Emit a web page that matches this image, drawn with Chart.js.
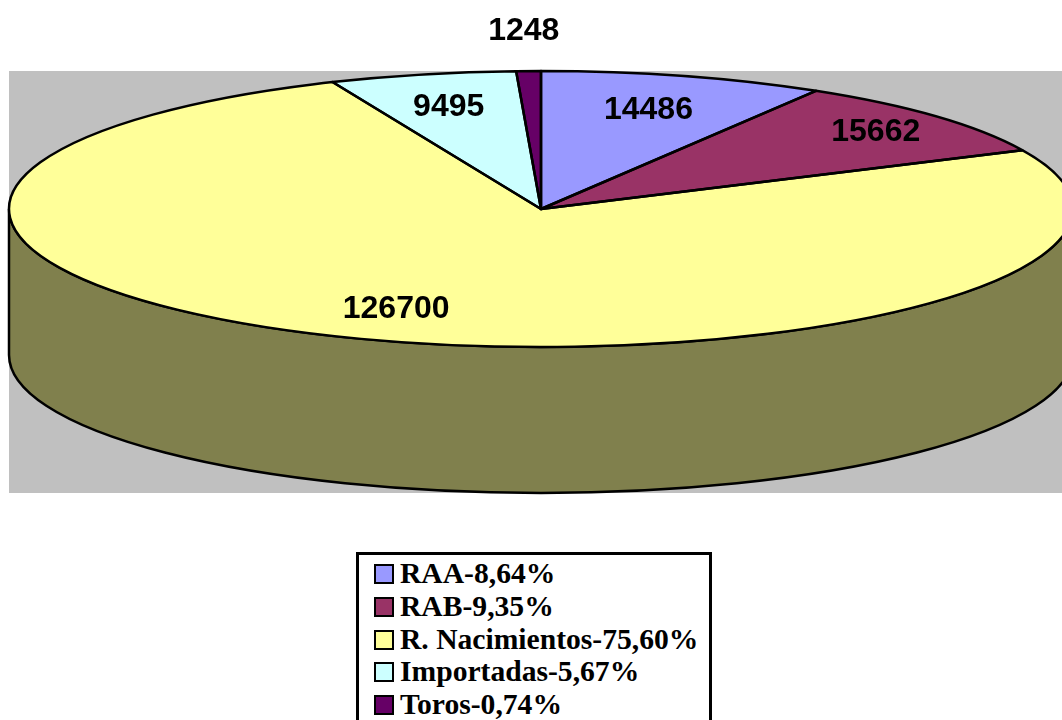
<!DOCTYPE html>
<html>
<head>
<meta charset="utf-8">
<script src="https://cdn.jsdelivr.net/npm/chart.js@4"></script>
<style>
    html, body { margin: 0; padding: 0; background: #fff; width: 1062px; height: 720px; overflow: hidden; }
    #wrap { position: relative; width: 1062px; height: 720px; overflow: hidden; }
    #legend {
        position: absolute; left: 356px; top: 552px; width: 350px; height: 180px;
        border: 3px solid #000; background: #fff; box-sizing: content-box;
        font: bold 29.6px "Liberation Serif", serif; color: #000;
    }
    #legend div { position: absolute; left: 15px; height: 33px; line-height: 33px; white-space: nowrap; }
    #legend i {
        position: absolute; left: 0; top: 7px; width: 16px; height: 16px;
        border: 2px solid #000; display: block;
    }
    #legend span { position: absolute; left: 26px; top: 0; }
</style>
</head>
<body>
<div id="wrap">
    <canvas id="pie" width="1062" height="720"></canvas>
    <div id="legend"></div>
</div>
<script>
const categories = ['RAA', 'RAB', 'R. Nacimientos', 'Importadas', 'Toros'];
const values = [14486, 15662, 126700, 9495, 1248];
const percents = ['8,64%', '9,35%', '75,60%', '5,67%', '0,74%'];
const colors = ['#9999FF', '#993366', '#FFFF99', '#CCFFFF', '#660066'];
const sideColors = ['#4D4D80', '#4D1A33', '#80804D', '#668080', '#330033'];

const squash = 138 / 532;
const depth = 146;
// how far out along the slice each number sits
const labelPos = [0.76, 0.85, 0.76, 0.77, 1.3];

const tilted = (ctx, el, fn) => {
    ctx.save();
    ctx.translate(el.x, el.y);
    ctx.scale(1, squash);
    ctx.translate(-el.x, -el.y);
    fn();
    ctx.restore();
};

const pie3d = {
    id: 'pie3d',
    beforeDraw(chart) {
        const ctx = chart.ctx;
        ctx.fillStyle = '#C0C0C0';
        ctx.fillRect(9, 71, 1053, 422);
    },
    beforeDatasetDraw(chart) {
        const ctx = chart.ctx;
        const arcs = chart.getDatasetMeta(0).data;
        // the rim: only the part of each slice on the front half shows
        arcs.forEach((el, i) => {
            const turn = Math.PI * 2;
            let a = el.startAngle, b = el.endAngle;
            if (a < 0 && b > 0) a = 0;
            if (b > Math.PI && a < Math.PI) b = Math.PI;
            if (a < 0 || a >= Math.PI || b <= a || b > turn) return;
            ctx.beginPath();
            tilted(ctx, el, () => ctx.arc(el.x, el.y, el.outerRadius, a, b));
            ctx.save();
            ctx.translate(0, depth);
            tilted(ctx, el, () => ctx.arc(el.x, el.y, el.outerRadius, b, a, true));
            ctx.restore();
            ctx.closePath();
            ctx.fillStyle = sideColors[i];
            ctx.fill();
            ctx.strokeStyle = '#000';
            ctx.lineWidth = 2.5;
            ctx.stroke();
        });
        ctx.save();
        const el = arcs[0];
        ctx.translate(el.x, el.y);
        ctx.scale(1, squash);
        ctx.translate(-el.x, -el.y);
    },
    afterDatasetDraw(chart) {
        const ctx = chart.ctx;
        ctx.restore();
        const arcs = chart.getDatasetMeta(0).data;
        arcs.forEach((el, i) => {
            ctx.beginPath();
            tilted(ctx, el, () => {
                ctx.moveTo(el.x, el.y);
                ctx.arc(el.x, el.y, el.outerRadius, el.startAngle, el.endAngle);
                ctx.closePath();
            });
            ctx.strokeStyle = '#000';
            ctx.lineWidth = 2.5;
            ctx.lineJoin = 'round';
            ctx.stroke();
        });
        ctx.fillStyle = '#000';
        ctx.font = 'bold 32px "Liberation Sans", sans-serif';
        ctx.textAlign = 'center';
        ctx.textBaseline = 'middle';
        arcs.forEach((el, i) => {
            const mid = (el.startAngle + el.endAngle) / 2;
            const r = el.outerRadius * labelPos[i];
            ctx.fillText(values[i], el.x + Math.cos(mid) * r - 1, el.y + Math.sin(mid) * r * squash + 2);
        });
    }
};

new Chart(document.getElementById('pie'), {
    type: 'pie',
    data: {
        labels: categories,
        datasets: [{
            data: values,
            backgroundColor: colors,
            borderWidth: 0,
            radius: 532,
            clip: false
        }]
    },
    options: {
        responsive: false,
        animation: false,
        layout: { padding: { left: 20, right: 0, top: 0, bottom: 302 } },
        plugins: {
            legend: { display: false },
            tooltip: { enabled: false }
        }
    },
    plugins: [pie3d]
});

const legend = document.getElementById('legend');
categories.forEach((name, i) => {
    const row = document.createElement('div');
    row.style.top = (2 + i * 32.8) + 'px';
    const box = document.createElement('i');
    box.style.background = colors[i];
    const txt = document.createElement('span');
    txt.textContent = name + '-' + percents[i];
    row.appendChild(box);
    row.appendChild(txt);
    legend.appendChild(row);
});
</script>
</body>
</html>
